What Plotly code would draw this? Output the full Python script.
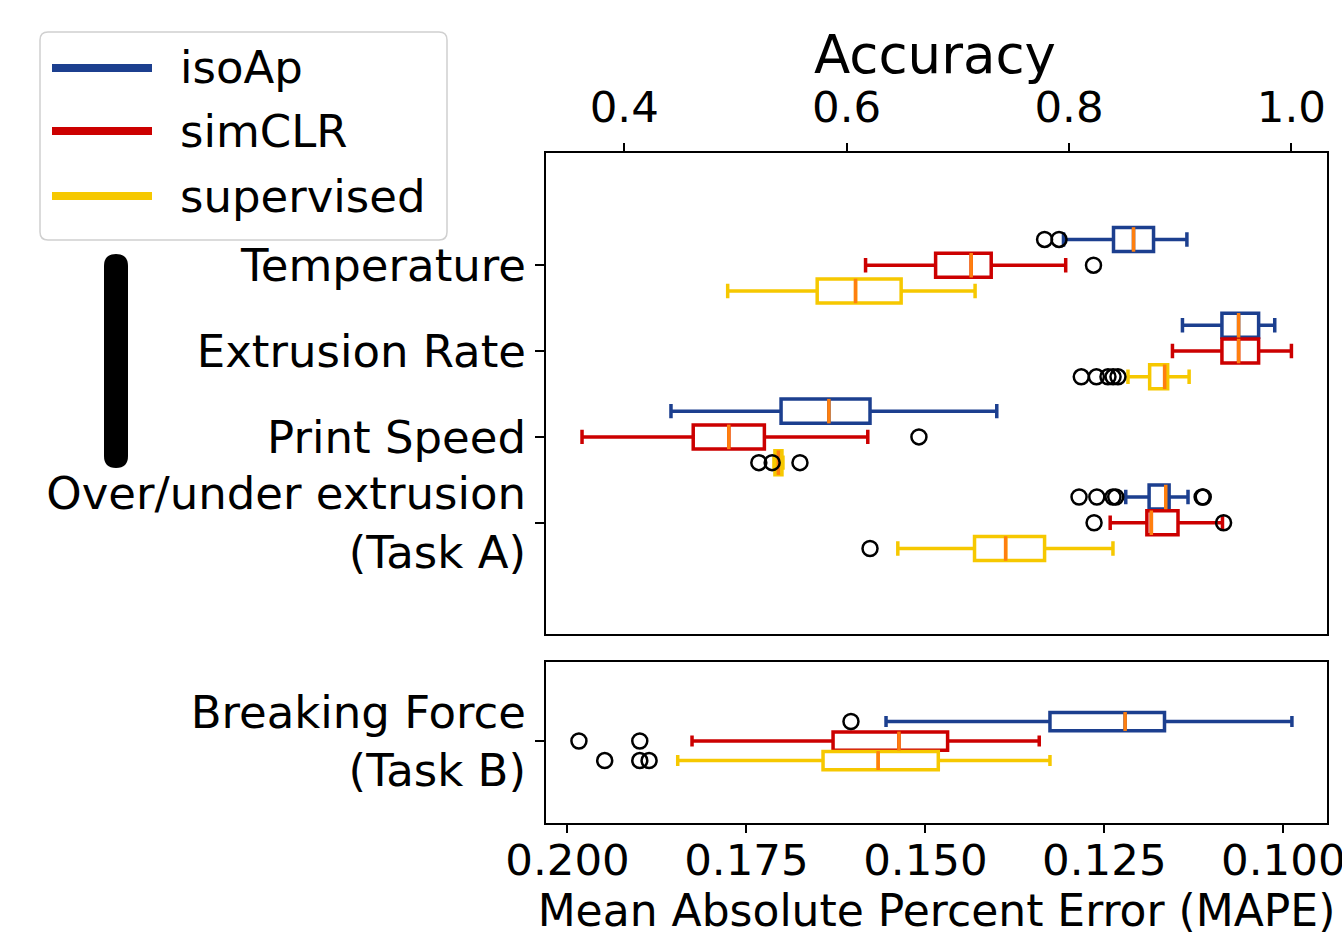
import plotly.graph_objects as go

# ---------------- data ----------------
methods = ["isoAp", "simCLR", "supervised"]
method_colors = ["#1c3f8f", "#cc0000", "#f6c800"]
median_color = "#ff7f0e"

categories_top = ["Temperature", "Extrusion Rate", "Print Speed",
                  "Over/under extrusion<br>(Task A)"]
categories_bottom = ["Breaking Force<br>(Task B)"]

# Accuracy (top panel): per method, per category
acc_lowerfence = {
    "isoAp":      [0.795, 0.902, 0.442, 0.851],
    "simCLR":     [0.617, 0.893, 0.362, 0.837],
    "supervised": [0.493, 0.853, 0.5346, 0.646],
}
acc_q1 = {
    "isoAp":      [0.840, 0.9375, 0.541, 0.872],
    "simCLR":     [0.680, 0.9375, 0.462, 0.870],
    "supervised": [0.5735, 0.8725, 0.5355, 0.715],
}
acc_median = {
    "isoAp":      [0.858, 0.9525, 0.584, 0.887],
    "simCLR":     [0.712, 0.9525, 0.494, 0.874],
    "supervised": [0.608, 0.886, 0.5386, 0.743],
}
acc_q3 = {
    "isoAp":      [0.876, 0.9705, 0.621, 0.890],
    "simCLR":     [0.730, 0.9705, 0.526, 0.898],
    "supervised": [0.649, 0.8887, 0.5418, 0.778],
}
acc_upperfence = {
    "isoAp":      [0.906, 0.985, 0.735, 0.907],
    "simCLR":     [0.797, 1.000, 0.619, 0.938],
    "supervised": [0.7155, 0.908, 0.5427, 0.8395],
}
acc_outliers = {
    "isoAp":      [[0.778, 0.791], [], [], [0.809, 0.825, 0.8395, 0.842, 0.9197, 0.9207]],
    "simCLR":     [[0.822], [], [0.665], [0.8225, 0.939]],
    "supervised": [[], [0.811, 0.8246, 0.835, 0.8396, 0.844], [0.521, 0.533, 0.558], [0.621]],
}

# MAPE (bottom panel): Breaking Force
mape_lowerfence = {"isoAp": [0.0988], "simCLR": [0.1341], "supervised": [0.1326]}
mape_q1 = {"isoAp": [0.1166], "simCLR": [0.1469], "supervised": [0.1482]}
mape_median = {"isoAp": [0.1221], "simCLR": [0.1537], "supervised": [0.1566]}
mape_q3 = {"isoAp": [0.1326], "simCLR": [0.1629], "supervised": [0.1643]}
mape_upperfence = {"isoAp": [0.1555], "simCLR": [0.1826], "supervised": [0.1846]}
mape_outliers = {
    "isoAp": [[0.1604]],
    "simCLR": [[0.1984, 0.1899]],
    "supervised": [[0.1948, 0.1899, 0.1886]],
}

acc_ticks = [0.4, 0.6, 0.8, 1.0]
mape_ticks = [0.200, 0.175, 0.150, 0.125, 0.100]
method_offsets = [-0.3, 0.0, 0.3]

# ---------------- layout geometry ----------------
W, H = 1342, 936
L, R, T, B = 546, 1327, 153, 823
FONT = "DejaVu Sans"
FS_TICK = 43.5
FS = 45


def px_x(px):
    return (px - L) / (R - L)


def px_y(py):
    return (B - py) / (B - T)


fig = go.Figure()


def add_group(stats, outl, cats, xa, ya, med_size):
    lf, q1, md, q3, uf = stats
    for mi, m in enumerate(methods):
        col = method_colors[mi]
        pos = [ci + method_offsets[mi] for ci in range(len(cats))]
        fig.add_trace(go.Box(
            y=pos, q1=q1[m], median=md[m], q3=q3[m],
            lowerfence=lf[m], upperfence=uf[m],
            orientation="h", width=0.28, whiskerwidth=0.6,
            boxpoints=False, line=dict(color=col, width=3.5),
            fillcolor="rgba(0,0,0,0)", showlegend=False, name=m,
            xaxis=xa, yaxis=ya, hoverinfo="skip"))
        fig.add_trace(go.Scatter(
            x=md[m], y=pos, mode="markers", showlegend=False,
            marker=dict(symbol="line-ns", size=med_size, color=median_color,
                        line=dict(color=median_color, width=3.5)),
            xaxis=xa, yaxis=ya, hoverinfo="skip"))
        ox, oy = [], []
        for ci, vals in enumerate(outl[m]):
            for v in vals:
                ox.append(v)
                oy.append(pos[ci])
        fig.add_trace(go.Scatter(
            x=ox, y=oy, mode="markers", showlegend=False,
            marker=dict(symbol="circle-open", size=15, color="black",
                        line=dict(color="black", width=2.5)),
            xaxis=xa, yaxis=ya, hoverinfo="skip"))


add_group((acc_lowerfence, acc_q1, acc_median, acc_q3, acc_upperfence),
          acc_outliers, categories_top, "x", "y", 17.5)
add_group((mape_lowerfence, mape_q1, mape_median, mape_q3, mape_upperfence),
          mape_outliers, categories_bottom, "x2", "y2", 13.5)

axis_common = dict(showline=True, linecolor="black", linewidth=2, mirror=True,
                   showgrid=False, zeroline=False, ticks="outside",
                   tickcolor="black", tickwidth=1.5, automargin=False)

fig.update_layout(
    width=W, height=H, autosize=False,
    margin=dict(l=L, r=W - R, t=T, b=H - B, pad=0, autoexpand=False),
    paper_bgcolor="white", plot_bgcolor="white",
    font=dict(family=FONT, size=FS, color="black"),
    showlegend=False,
    xaxis=dict(domain=[0, 1], anchor="y", side="top",
               range=[0.3296, 1.032], tickvals=acc_ticks,
               ticktext=[f"{v:.1f}" for v in acc_ticks], ticklen=8,
               tickfont=dict(family=FONT, size=FS_TICK, color="black"),
               ticklabelstandoff=4, ticklabeloverflow="allow",
               **axis_common),
    yaxis=dict(domain=[px_y(634), 1], anchor="x",
               range=[4.296, -1.307], tickvals=list(range(len(categories_top))),
               ticktext=categories_top, ticklen=9,
               tickfont=dict(family=FONT, size=FS, color="black"), **axis_common),
    xaxis2=dict(domain=[0, 1], anchor="y2", range=[0.203, 0.0939],
                tickvals=mape_ticks, tickformat=".3f", ticklen=8,
                tickfont=dict(family=FONT, size=FS_TICK, color="black"),
                ticklabelstandoff=-10, ticklabeloverflow="allow",
                title=dict(text="Mean Absolute Percent Error (MAPE)",
                           font=dict(family=FONT, size=44, color="black"), standoff=7),
                **axis_common),
    yaxis2=dict(domain=[0, px_y(662)], anchor="x2",
                range=[1.26, -1.215], tickvals=[0],
                ticktext=categories_bottom, ticklen=9,
                tickfont=dict(family=FONT, size=FS, color="black"), **axis_common),
)

# top axis title
fig.add_annotation(text="Accuracy", xref="paper", yref="paper",
                   x=px_x(935), y=px_y(55), xanchor="center", yanchor="middle",
                   showarrow=False, font=dict(family=FONT, size=53, color="black"))


def rounded_rect(x0, y0, x1, y1, r):
    # pixel coords -> paper path with rounded corners
    rx = r / (R - L)
    ry = r / (B - T)
    X0, X1 = px_x(x0), px_x(x1)
    Y0, Y1 = px_y(y0), px_y(y1)  # Y0 top (larger), Y1 bottom
    return (f"M{X0 + rx},{Y0} L{X1 - rx},{Y0} Q{X1},{Y0} {X1},{Y0 - ry} "
            f"L{X1},{Y1 + ry} Q{X1},{Y1} {X1 - rx},{Y1} "
            f"L{X0 + rx},{Y1} Q{X0},{Y1} {X0},{Y1 + ry} "
            f"L{X0},{Y0 - ry} Q{X0},{Y0} {X0 + rx},{Y0} Z")


# legend frame
fig.add_shape(type="path", xref="paper", yref="paper",
              path=rounded_rect(40, 32, 447, 240, 8),
              line=dict(color="#d0d0d0", width=1.5), fillcolor="rgba(255,255,255,0.8)")
legend_y = [68, 131, 196]
for mi, m in enumerate(methods):
    fig.add_shape(type="line", xref="paper", yref="paper",
                  x0=px_x(52), x1=px_x(152), y0=px_y(legend_y[mi]), y1=px_y(legend_y[mi]),
                  line=dict(color=method_colors[mi], width=8))
    fig.add_annotation(text=m, xref="paper", yref="paper",
                       x=px_x(178), y=px_y(legend_y[mi]), xanchor="left", yanchor="middle",
                       showarrow=False, font=dict(family=FONT, size=FS, color="black"))

# thick black vertical bar
fig.add_shape(type="path", xref="paper", yref="paper",
              path=rounded_rect(104, 254, 128, 468, 12),
              line=dict(color="black", width=0), fillcolor="black")

fig.write_html(
    "out.html",
    config={"responsive": False, "displayModeBar": False},
    post_script=("document.body.style.margin='0px';"
                 "document.body.style.overflow='hidden';"
                 "document.documentElement.style.overflow='hidden';"),
)
